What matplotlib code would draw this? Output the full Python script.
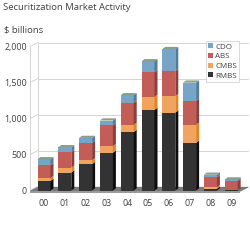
import matplotlib
matplotlib.use("Agg")
import matplotlib.pyplot as plt
from matplotlib.patches import Polygon, Patch

plt.rcParams['font.family'] = ['Open Sans', 'DejaVu Sans']

years = ["00", "01", "02", "03", "04", "05", "06", "07", "08", "09"]
rmbs = [133, 250, 366, 525, 812, 1119, 1082, 662, 23, 5]
cmbs = [41, 68, 55, 91, 100, 183, 229, 252, 22, 5]
abs_ = [178, 215, 241, 288, 306, 342, 347, 333, 137, 123]
cdo = [82, 68, 68, 68, 105, 151, 306, 251, 37, 20]
series_names = ["RMBS", "CMBS", "ABS", "CDO"]
yticks = [0, 500, 1000, 1500, 2000]

front_cols = {"RMBS": "#333333", "CMBS": "#f0a45f", "ABS": "#c25e57", "CDO": "#76a5c8"}
side_cols = {"RMBS": "#0d0d0d", "CMBS": "#e6821f", "ABS": "#8e3f3a", "CDO": "#4f7d9e"}
top_col = "#8f9c88"

W = 250
fig = plt.figure(figsize=(2.5, 2.5), dpi=100)
# axes pixel box: left 30, right 250, top 40, bottom 193
ax = fig.add_axes([30 / W, (W - 193) / W, 220 / W, (193 - 40) / W])
px_per_x = 20.8
val_per_px = 13.89
x0 = -(44 - 30) / px_per_x
x1 = (250 - 44) / px_per_x
y1 = (190.5 - 40) * val_per_px
y0 = (190.5 - 193) * val_per_px
ax.set_xlim(x0, x1)
ax.set_ylim(y0, y1)
for s in ax.spines.values():
    s.set_visible(False)

wdx = 8 / px_per_x
wdy = 4 * val_per_px
grid_c = "#d4d4d4"
xr_wall = (248 - 44) / px_per_x
xl = x0
# back wall gridlines and left wall
for v in yticks:
    ax.plot([xl + wdx, xr_wall], [v + wdy, v + wdy], color=grid_c, lw=0.7, zorder=1)
    ax.plot([xl, xl + wdx], [v, v + wdy], color=grid_c, lw=0.7, zorder=1)
ax.plot([xl + wdx, xl + wdx], [wdy, yticks[-1] + wdy], color=grid_c, lw=0.7, zorder=1)
ax.plot([xl, xl], [0, yticks[-1]], color=grid_c, lw=0.7, zorder=1)

# floor
floor = Polygon([(xl, -10), (xr_wall - wdx, -10), (xr_wall, wdy - 10), (xl + wdx, wdy - 10)],
                closed=True, facecolor="#7a7a7a", edgecolor="#6a6a6a", lw=0.5, zorder=2)
ax.add_patch(floor)
ax.add_patch(Polygon([(xl, -10), (xr_wall - wdx, -10), (xr_wall - wdx, -30), (xl, -30)],
                     closed=True, facecolor="#9a9a9a", edgecolor="none", zorder=2))

bw = 13 / px_per_x
bdx = 3 / px_per_x
bdy = 2.2 * val_per_px
data = {"RMBS": rmbs, "CMBS": cmbs, "ABS": abs_, "CDO": cdo}
xs = list(range(len(years)))
for i in xs:
    bottom = 0
    z = 3 + i * 0.01
    for name in series_names:
        h = data[name][i]
        ax.bar(i, h, width=bw, bottom=bottom, color=front_cols[name],
               edgecolor="none", zorder=z)
        xr = i + bw / 2
        ax.add_patch(Polygon([(xr, bottom), (xr + bdx, bottom + bdy),
                              (xr + bdx, bottom + h + bdy), (xr, bottom + h)],
                             closed=True, facecolor=side_cols[name], edgecolor="none", zorder=z))
        bottom += h
    xlb = i - bw / 2
    xr = i + bw / 2
    ax.add_patch(Polygon([(xlb, bottom), (xr, bottom), (xr + bdx, bottom + bdy), (xlb + bdx, bottom + bdy)],
                         closed=True, facecolor=top_col, edgecolor="none", zorder=z))

ax.set_yticks(yticks)
ax.set_yticklabels([f"{v:,}" for v in yticks])
ax.set_xticks(xs)
ax.set_xticklabels(years)
ax.tick_params(axis="both", length=0, labelsize=6.4, colors="#404040")
ax.tick_params(axis="y", pad=2.2)
ax.tick_params(axis="x", pad=4.0)

fig.text(3 / W, 1 - 8 / W, "Securitization Market Activity", fontsize=6.8, color="#404040",
         va="center", ha="left")
fig.text(4 / W, 1 - 30 / W, "$ billions", fontsize=6.8, color="#404040", va="center", ha="left")

handles = [Patch(facecolor=front_cols[n], edgecolor="none", label=n) for n in ["CDO", "ABS", "CMBS", "RMBS"]]
leg = fig.legend(handles=handles, loc="upper left", bbox_to_anchor=(206 / W, 1 - 41 / W),
                 fontsize=5.8, frameon=True, fancybox=False, handlelength=0.55, handleheight=0.55,
                 handletextpad=0.3, labelspacing=0.3, borderpad=0.3, borderaxespad=0)
leg.get_frame().set_edgecolor("#c8c8c8")
leg.get_frame().set_linewidth(0.6)
for t in leg.get_texts():
    t.set_color("#404040")

fig.savefig("out.png", dpi=100)
